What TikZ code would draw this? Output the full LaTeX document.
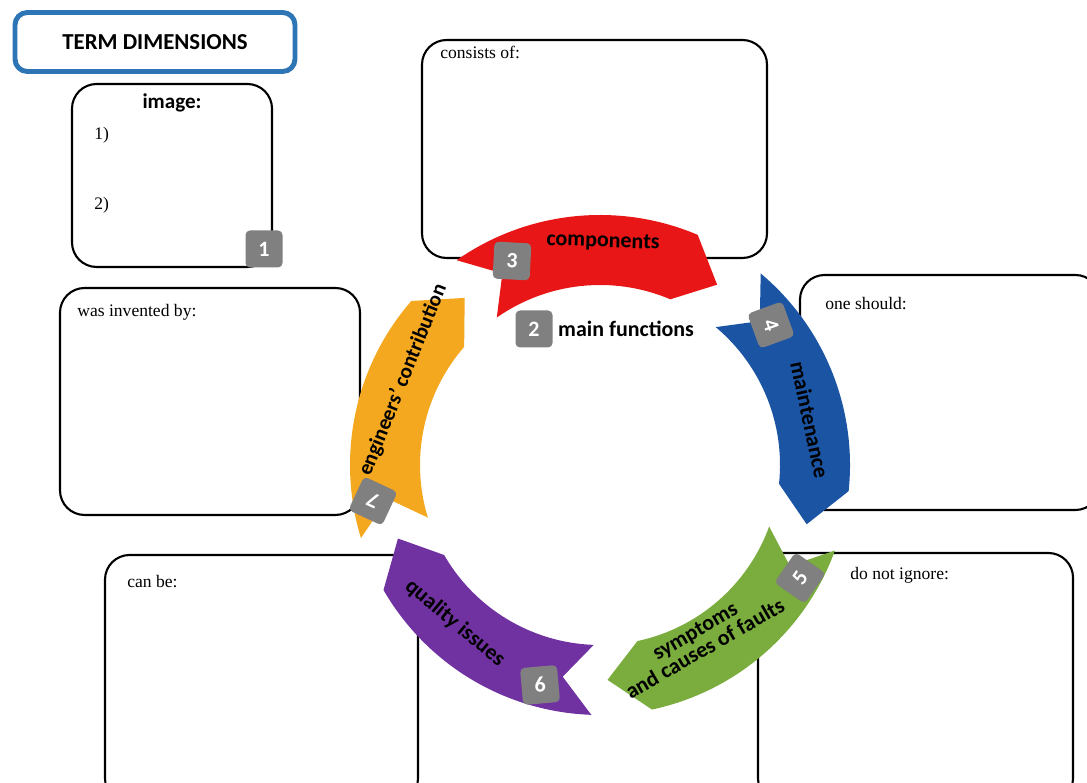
\documentclass[tikz,border=0pt]{standalone}
\usepackage{fontspec}
\setmainfont{Liberation Serif}
\newfontfamily\labelfont{Carlito}
\usetikzlibrary{positioning}
\definecolor{termblue}{RGB}{46,117,182}
\definecolor{badgegray}{RGB}{128,128,128}
\definecolor{arrred}{RGB}{232,22,22}
\definecolor{arrblue}{RGB}{28,84,164}
\definecolor{arrgreen}{RGB}{122,172,62}
\definecolor{arrpurple}{RGB}{112,50,160}
\definecolor{arrorange}{RGB}{244,168,32}
\tikzset{
  infobox/.style={draw, line width=1.2pt, rounded corners=14pt},
  notetext/.style={font=\fontsize{10}{12}\selectfont, anchor=north west, inner sep=0pt},
  numbadge/.style={fill=badgegray, rounded corners=2.5pt, minimum size=0.74cm, inner sep=0pt,
    text=white, font=\labelfont\bfseries\fontsize{12.5}{12.5}\selectfont},
  arrowlabel/.style={font=\labelfont\bfseries\fontsize{12.5}{11.5}\selectfont, align=center, inner sep=0pt}
}
\begin{document}
\begin{tikzpicture}[x=0.02cm,y=0.02cm]
\useasboundingbox (0,0) rectangle (1087,783);
  % Draw title box
  \node[draw=termblue, line width=2.8pt, rounded corners=7pt, minimum width=5.6cm, minimum height=1.18cm,
        font=\labelfont\bfseries\fontsize{13}{13}\selectfont] (term) at (155,741) {TERM DIMENSIONS};
  % Draw the boxes
  \draw[infobox] (72,699) rectangle (272,516);
  \draw[infobox] (422,743) rectangle (767,525);
  \draw[infobox] (800,508) rectangle (1100,273);
  \draw[infobox] (60,495) rectangle (360,268);
  \draw[infobox] (105,228) rectangle (418,-20);
  \draw[infobox] (758,230) rectangle (1073,-20);
  % Draw box texts
  \node[font=\labelfont\bfseries\fontsize{12}{12}\selectfont] (img) at (172,680) {image:};
  \node[notetext] (img1) at (94,656) {1)};
  \node[notetext] (img2) at (94,586) {2)};
  \node[notetext] (cons) at (440,737) {consists of:};
  \node[notetext] (should) at (825,486) {one should:};
  \node[notetext] (invent) at (77,479) {was invented by:};
  \node[notetext] (canbe) at (127,208) {can be:};
  \node[notetext] (ignore) at (850,216) {do not ignore:};
  % Draw the cycle arrows
  \begin{scope}[shift={(600,318)}]
  \foreach \a/\b/\col in {125/57/arrred,50/-16/arrblue,-20/-88/arrgreen,-92/-160/arrpurple,-163/-231/arrorange}
    \fill[\col] (\a:250) arc[start angle=\a, end angle=\b+10, radius=250] -- (\b:215)
      -- ({\b+10}:180) arc[start angle=\b+10, end angle=\a, radius=180] -- ({\a-8}:215) -- cycle;
  \end{scope}
  % Draw arrow labels
  \node[arrowlabel, rotate=-2] (comp) at (603,541) {components};
  \node[arrowlabel, rotate=-78] (maint) at (810,363) {maintenance};
  \node[arrowlabel, rotate=30] (sympt) at (700,143) {symptoms\\and causes of faults};
  \node[arrowlabel, rotate=-40] (qual) at (455,160) {quality issues};
  \node[arrowlabel, rotate=68, font=\labelfont\bfseries\fontsize{12}{12}\selectfont] (engin) at (403,403) {engineers’ contribution};
  % Draw number badges
  \node[numbadge] (b1) at (264,534) {1};
  \node[numbadge] (b2) at (534,454) {2};
  \node[numbadge, rotate=-3] (b3) at (512,522) {3};
  \node[numbadge, rotate=-70] (b4) at (771,458) {4};
  \node[numbadge, rotate=55] (b5) at (800,205) {5};
  \node[numbadge, rotate=5] (b6) at (540,98) {6};
  \node[numbadge, rotate=155] (b7) at (373,282) {7};
  \node[right=0.1cm of b2, font=\labelfont\bfseries\fontsize{12.5}{12.5}\selectfont, inner sep=0pt] (mainf) {main functions};
\end{tikzpicture}
\end{document}
